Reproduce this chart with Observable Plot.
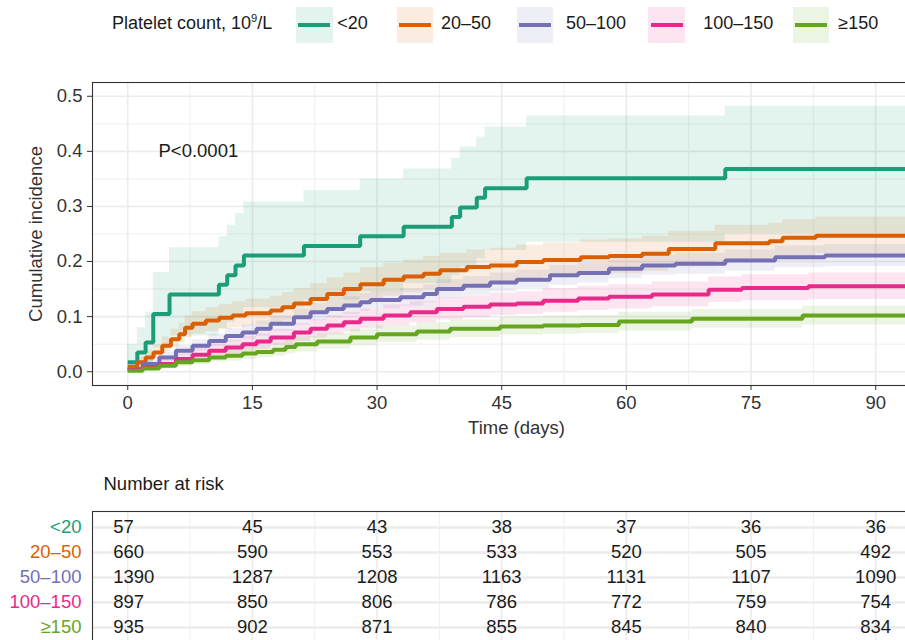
<!DOCTYPE html>
<html>
<head>
<meta charset="utf-8">
<script src="https://cdn.jsdelivr.net/npm/d3@7"></script>
<script src="https://cdn.jsdelivr.net/npm/@observablehq/plot@0.6"></script>
<style>
  html, body { margin: 0; padding: 0; background: #fff; width: 905px; height: 640px; overflow: hidden; }
  body { font-family: "Liberation Sans", Arial, Helvetica, sans-serif; }
  svg { max-width: none !important; display: block; }
  #legend { position: relative; height: 50px; font-size: 18px; color: #1a1a1a; white-space: nowrap; }
  #legend > span { position: absolute; }
  .ltitle, .klab { top: 12px; line-height: 22px; }
  .ltitle sup { font-size: 0.62em; line-height: 0; vertical-align: 0.62em; }
  .key { top: 6.5px; width: 36.5px; height: 36.5px; display: flex; align-items: center; justify-content: center; }
  .kline { width: 32px; height: 4.3px; }
</style>
</head>
<body>
<div id="legend"></div>
<div id="main"></div>
<div id="risk"></div>
<script>
// ---------- categories, colours, ticks ----------
const groups = ["<20", "20–50", "50–100", "100–150", "≥150"];
const palette = ["#1B9E77", "#D95F02", "#7570B3", "#E7298A", "#66A61E"];
const legendTitle = "Platelet count, 10";
const xTicks = [0, 15, 30, 45, 60, 75, 90];
const xMinor = [7.5, 22.5, 37.5, 52.5, 67.5, 82.5, 97.5];
const yTicks = [0, 0.1, 0.2, 0.3, 0.4, 0.5];
const yMinor = [0.05, 0.15, 0.25, 0.35, 0.45];

// ---------- cumulative incidence ----------
// <20
const time_g1 = [0, 1.15, 2.15, 3.07, 5.03, 10.97, 11.97, 12.97, 13.98, 21.2, 27.97, 33.2, 39.0, 40.0, 42.0, 43.0, 48.0, 71.9, 98];
const est_g1  = [0.017, 0.035, 0.053, 0.105, 0.14, 0.158, 0.175, 0.193, 0.211, 0.228, 0.246, 0.263, 0.281, 0.298, 0.316, 0.333, 0.351, 0.368, 0.368];
const hi_g1   = [0.05, 0.08, 0.108, 0.18, 0.225, 0.245, 0.266, 0.287, 0.308, 0.329, 0.35, 0.368, 0.387, 0.408, 0.426, 0.444, 0.464, 0.482, 0.482];
const lo_g1   = [0.0025, 0.007, 0.014, 0.043, 0.065, 0.078, 0.09, 0.103, 0.116, 0.13, 0.145, 0.16, 0.175, 0.19, 0.205, 0.22, 0.235, 0.25, 0.25];
// 20–50
const time_g2 = [0, 1.15, 2.15, 3.1, 4.15, 5.2, 6.2, 6.9, 7.8, 9.4, 11, 12.6, 14.2, 17.2, 18.6, 20, 22, 24, 26, 28, 30.8, 33.2, 35.6, 37.6, 40.8, 43.6, 46.8, 50, 54.5, 57.9, 61.9, 65.1, 70.7, 77.2, 78.8, 82.8, 98];
const est_g2  = [0.009, 0.017, 0.026, 0.035, 0.047, 0.059, 0.068, 0.080, 0.087, 0.093, 0.098, 0.102, 0.106, 0.111, 0.117, 0.124, 0.132, 0.141, 0.150, 0.159, 0.167, 0.173, 0.178, 0.184, 0.190, 0.193, 0.199, 0.203, 0.208, 0.210, 0.214, 0.223, 0.233, 0.237, 0.243, 0.247, 0.248];
const hi_g2   = [0.016, 0.027, 0.038, 0.049, 0.063, 0.077, 0.088, 0.101, 0.109, 0.116, 0.122, 0.127, 0.132, 0.137, 0.144, 0.151, 0.160, 0.170, 0.179, 0.189, 0.197, 0.203, 0.209, 0.215, 0.221, 0.224, 0.230, 0.234, 0.239, 0.241, 0.246, 0.255, 0.266, 0.270, 0.276, 0.281, 0.282];
const lo_g2   = [0.004, 0.010, 0.017, 0.024, 0.034, 0.044, 0.052, 0.062, 0.068, 0.073, 0.077, 0.080, 0.083, 0.087, 0.092, 0.098, 0.105, 0.113, 0.121, 0.130, 0.137, 0.143, 0.148, 0.153, 0.159, 0.162, 0.168, 0.172, 0.176, 0.178, 0.182, 0.190, 0.200, 0.204, 0.210, 0.214, 0.215];
// 50–100
const time_g3 = [0, 1.8, 3.8, 5.8, 7.8, 9.8, 11.8, 13.8, 15.5, 17.2, 20, 22, 24, 26, 28, 29.2, 32.8, 35.6, 37.2, 40.4, 43.6, 46.8, 50.8, 54.2, 57.9, 61.9, 65.9, 71.9, 77.9, 83.9, 98];
const est_g3  = [0.005, 0.014, 0.026, 0.038, 0.047, 0.056, 0.065, 0.071, 0.078, 0.087, 0.099, 0.108, 0.114, 0.120, 0.126, 0.130, 0.135, 0.141, 0.150, 0.156, 0.162, 0.167, 0.175, 0.179, 0.187, 0.193, 0.196, 0.202, 0.208, 0.211, 0.212];
const hi_g3   = [0.009, 0.021, 0.035, 0.048, 0.058, 0.068, 0.078, 0.085, 0.092, 0.101, 0.114, 0.124, 0.130, 0.136, 0.142, 0.146, 0.151, 0.158, 0.167, 0.173, 0.179, 0.184, 0.193, 0.197, 0.205, 0.212, 0.215, 0.221, 0.228, 0.231, 0.232];
const lo_g3   = [0.002, 0.008, 0.018, 0.029, 0.037, 0.045, 0.053, 0.058, 0.064, 0.073, 0.084, 0.092, 0.098, 0.104, 0.110, 0.114, 0.119, 0.125, 0.133, 0.139, 0.145, 0.150, 0.157, 0.161, 0.169, 0.175, 0.177, 0.183, 0.189, 0.191, 0.192];
// 100–150
const time_g4 = [0, 1.8, 3.8, 5.8, 7.8, 9.8, 11.8, 13.8, 15.5, 17.2, 20, 22, 24, 26, 28, 30.8, 34, 37.2, 40.4, 43.6, 46.8, 50, 54.2, 57.9, 63.1, 69.9, 73.9, 81.9, 98];
const est_g4  = [0.003, 0.008, 0.014, 0.023, 0.031, 0.038, 0.044, 0.050, 0.055, 0.062, 0.071, 0.078, 0.084, 0.090, 0.096, 0.102, 0.108, 0.114, 0.118, 0.122, 0.124, 0.129, 0.133, 0.136, 0.140, 0.149, 0.152, 0.155, 0.156];
const hi_g4   = [0.006, 0.013, 0.021, 0.032, 0.042, 0.050, 0.057, 0.064, 0.069, 0.077, 0.087, 0.095, 0.101, 0.108, 0.114, 0.121, 0.127, 0.134, 0.138, 0.143, 0.145, 0.151, 0.155, 0.158, 0.163, 0.172, 0.176, 0.179, 0.180];
const lo_g4   = [0.001, 0.004, 0.009, 0.015, 0.021, 0.027, 0.032, 0.037, 0.041, 0.047, 0.055, 0.061, 0.067, 0.072, 0.078, 0.083, 0.089, 0.094, 0.098, 0.102, 0.104, 0.108, 0.111, 0.114, 0.118, 0.126, 0.129, 0.131, 0.132];
// ≥150
const time_g5 = [0, 1.8, 3.8, 5.8, 7.8, 9.8, 11.8, 13.8, 15.5, 17.5, 19, 20.2, 22.8, 26.8, 30, 34.8, 38.8, 44.8, 50, 54.5, 59.1, 67.9, 81.2, 98];
const est_g5  = [0.002, 0.006, 0.011, 0.017, 0.021, 0.026, 0.029, 0.033, 0.036, 0.040, 0.045, 0.050, 0.055, 0.062, 0.068, 0.073, 0.078, 0.082, 0.084, 0.085, 0.091, 0.096, 0.102, 0.103];
const hi_g5   = [0.004, 0.010, 0.017, 0.025, 0.030, 0.036, 0.040, 0.045, 0.048, 0.053, 0.058, 0.064, 0.070, 0.077, 0.083, 0.089, 0.094, 0.099, 0.101, 0.102, 0.108, 0.113, 0.119, 0.120];
const lo_g5   = [0.001, 0.003, 0.006, 0.010, 0.013, 0.017, 0.019, 0.022, 0.025, 0.028, 0.032, 0.036, 0.041, 0.047, 0.053, 0.057, 0.062, 0.066, 0.068, 0.069, 0.074, 0.079, 0.085, 0.086];

// ---------- annotation ----------
const pLabel = [{time: 3.7, value: 0.4, label: "P<0.0001"}];

// ---------- number at risk ----------
const riskTimes = [0, 15, 30, 45, 60, 75, 90];
const risk_g1 = [57, 45, 43, 38, 37, 36, 36];
const risk_g2 = [660, 590, 553, 533, 520, 505, 492];
const risk_g3 = [1390, 1287, 1208, 1163, 1131, 1107, 1090];
const risk_g4 = [897, 850, 806, 786, 772, 759, 754];
const risk_g5 = [935, 902, 871, 855, 845, 840, 834];

// ---------- build tables ----------
const series = [
  [time_g1, est_g1, lo_g1, hi_g1],
  [time_g2, est_g2, lo_g2, hi_g2],
  [time_g3, est_g3, lo_g3, hi_g3],
  [time_g4, est_g4, lo_g4, hi_g4],
  [time_g5, est_g5, lo_g5, hi_g5]
];
const rows = series.flatMap(([t, e, lo, hi], gi) =>
  t.map((tt, i) => ({group: groups[gi], time: tt, est: e[i], lo: lo[i], hi: hi[i]})));
const riskSeries = [risk_g1, risk_g2, risk_g3, risk_g4, risk_g5];
const riskRows = riskSeries.flatMap((arr, gi) =>
  arr.map((n, i) => ({group: groups[gi], time: riskTimes[i], n})));

const FONT = '"Liberation Sans", Arial, Helvetica, sans-serif';
const FS = "18.5px";
const xDomain = [-4.24, 97.8];
const gridColor = "#ebebeb";

// ---------- legend (HTML) ----------
const legendLayout = {titleX: 112, keyX: [296, 396.7, 516.7, 648.3, 792.7], labelX: [337.3, 441, 566, 703.3, 838.3]};
const legend = document.getElementById("legend");
const lt = document.createElement("span");
lt.className = "ltitle";
lt.style.left = legendLayout.titleX + "px";
lt.append(legendTitle);
const sup = document.createElement("sup"); sup.textContent = "9"; lt.append(sup);
lt.append("/L");
legend.append(lt);
groups.forEach((g, i) => {
  const key = document.createElement("span");
  key.className = "key";
  key.style.left = legendLayout.keyX[i] + "px";
  const c = d3.color(palette[i]); c.opacity = 0.12;
  key.style.background = c.formatRgb();
  const line = document.createElement("span");
  line.className = "kline";
  line.style.background = palette[i];
  key.append(line);
  const lab = document.createElement("span");
  lab.className = "klab";
  lab.style.left = legendLayout.labelX[i] + "px";
  lab.textContent = g;
  legend.append(key, lab);
});

// ---------- main plot ----------
const main = Plot.plot({
  width: 940, height: 390,
  marginLeft: 92, marginRight: 0, marginTop: 32, marginBottom: 55,
  style: {fontFamily: FONT, fontSize: FS, background: "white", color: "#1a1a1a", maxWidth: "none"},
  x: {domain: xDomain},
  y: {domain: [-0.025, 0.525]},
  color: {domain: groups, range: palette},
  marks: [
    Plot.gridX(xMinor, {stroke: gridColor, strokeOpacity: 1, strokeWidth: 0.8}),
    Plot.gridY(yMinor, {stroke: gridColor, strokeOpacity: 1, strokeWidth: 0.8}),
    Plot.gridX(xTicks, {stroke: gridColor, strokeOpacity: 1, strokeWidth: 1.6}),
    Plot.gridY(yTicks, {stroke: gridColor, strokeOpacity: 1, strokeWidth: 1.6}),
    Plot.areaY(rows, {x: "time", y1: "lo", y2: "hi", fill: "group", fillOpacity: 0.12, curve: "step-after"}),
    Plot.lineY(rows, {x: "time", y: "est", stroke: "group", strokeWidth: 4, curve: "step-after", strokeLinecap: "butt", strokeLinejoin: "miter"}),
    Plot.text(pLabel, {x: "time", y: "value", text: "label", textAnchor: "start", fill: "#1a1a1a"}),
    Plot.frame({stroke: "#333", strokeWidth: 1.1}),
    Plot.axisX(xTicks, {tickSize: 5, tickPadding: 5, color: "#333", label: "Time (days)", labelAnchor: "center", labelArrow: "none", labelOffset: 48}),
    Plot.axisY(yTicks, {tickSize: 5, tickPadding: 5, color: "#333", tickFormat: d3.format(".1f"), label: "Cumulative incidence", labelAnchor: "center", labelArrow: "none", labelOffset: 64})
  ]
});
document.getElementById("main").append(main);

// ---------- risk table ----------
const table = Plot.plot({
  width: 940, height: 220,
  marginLeft: 92, marginRight: 0, marginTop: 71, marginBottom: 0,
  style: {fontFamily: FONT, fontSize: FS, background: "white", color: "#1a1a1a", maxWidth: "none"},
  x: {domain: xDomain, axis: null},
  y: {type: "point", domain: groups, range: [85, 188.3], padding: 0, axis: null},
  color: {domain: groups, range: palette},
  marks: [
    Plot.gridX(xMinor, {stroke: gridColor, strokeOpacity: 1, strokeWidth: 0.8}),
    Plot.gridX(xTicks, {stroke: gridColor, strokeOpacity: 1, strokeWidth: 1.6}),
    Plot.gridY(groups, {stroke: gridColor, strokeOpacity: 1, strokeWidth: 2.4}),
    Plot.text(riskRows.filter(d => d.time === 0), {x: "time", y: "group", text: d => String(d.n), textAnchor: "start", dx: -14.5, fill: "#1a1a1a"}),
    Plot.text(riskRows.filter(d => d.time > 0), {x: "time", y: "group", text: d => String(d.n), fill: "#1a1a1a"}),
    Plot.text(groups, {y: d => d, frameAnchor: "left", textAnchor: "end", dx: -11, fill: d => d}),
    Plot.text(["Number at risk"], {frameAnchor: "top-left", textAnchor: "start", lineAnchor: "middle", dx: 11, dy: -27, fill: "#1a1a1a"}),
    Plot.frame({stroke: "#333", strokeWidth: 1.1})
  ]
});
document.getElementById("risk").append(table);
</script>
</body>
</html>
